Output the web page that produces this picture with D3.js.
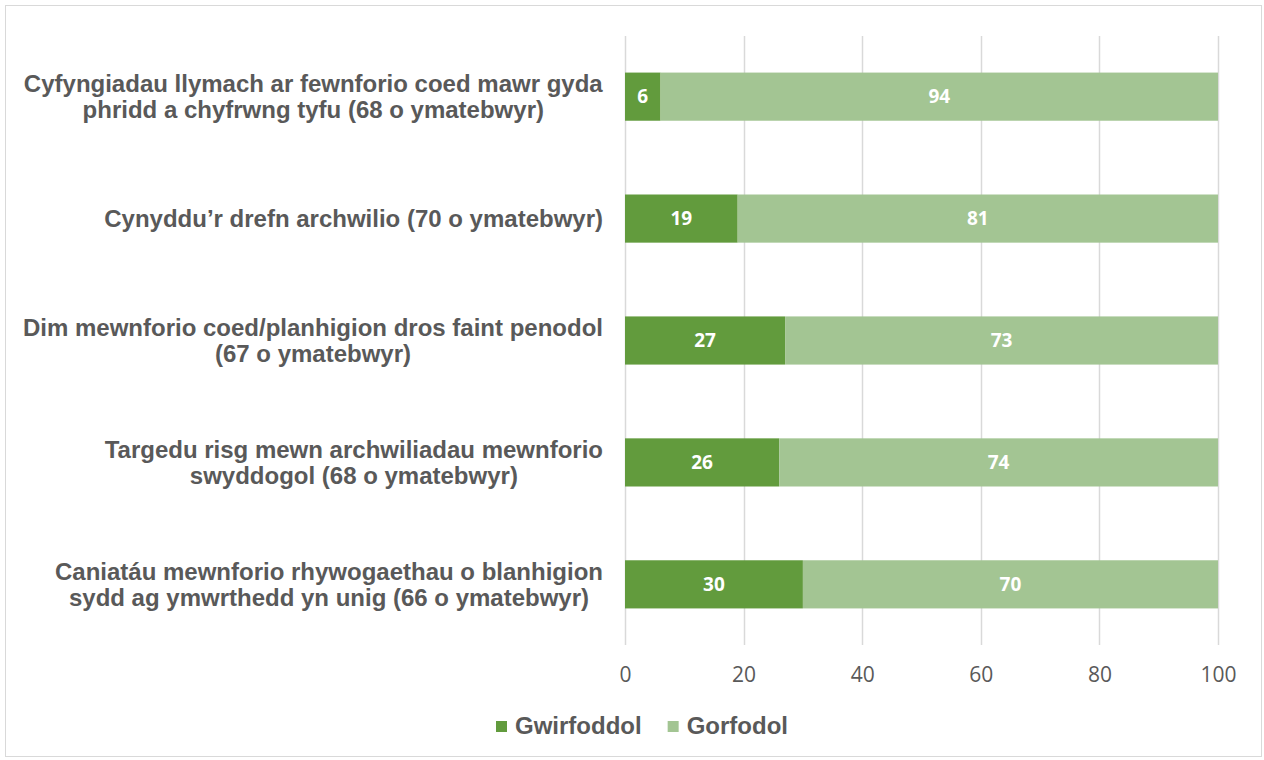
<!DOCTYPE html>
<html><head><meta charset="utf-8">
<script src="https://cdn.jsdelivr.net/npm/d3@7"></script>
<style>body{margin:0;background:#fff}svg{display:block}</style>
</head><body><svg id="c" width="1264" height="760"></svg>
<script>
const categories = [
  ["Cyfyngiadau llymach ar fewnforio coed mawr gyda","phridd a chyfrwng tyfu (68 o ymatebwyr)"],
  ["Cynyddu’r drefn archwilio (70 o ymatebwyr)"],
  ["Dim mewnforio coed/planhigion dros faint penodol","(67 o ymatebwyr)"],
  ["Targedu risg mewn archwiliadau mewnforio","swyddogol (68 o ymatebwyr)"],
  ["Caniatáu mewnforio rhywogaethau o blanhigion","sydd ag ymwrthedd yn unig (66 o ymatebwyr)"]
];
const gwirfoddol = [6, 19, 27, 26, 30];
const gorfodol = [94, 81, 73, 74, 70];
const seriesNames = ["Gwirfoddol", "Gorfodol"];
const ticks = [0, 20, 40, 60, 80, 100];
const colors = ["#629b3d", "#a3c593"];

const svg = d3.select("#c");
svg.append("rect").attr("x",5.5).attr("y",5.5).attr("width",1256).attr("height",751)
  .attr("fill","#fff").attr("stroke","#d9d9d9").attr("stroke-width",1);

const x = d3.scaleLinear().domain([0,100]).range([625,1218]);
const y = d3.scaleBand().domain(d3.range(categories.length)).range([36,645]).paddingInner(0.605).paddingOuter(0.3);

svg.append("g").selectAll("line").data(ticks).join("line")
  .attr("x1",d=>Math.round(x(d))+0.5).attr("x2",d=>Math.round(x(d))+0.5)
  .attr("y1",36).attr("y2",645).attr("stroke","#d9d9d9").attr("stroke-width",1.5);

const data = categories.map((c,i)=>({i, vals:[gwirfoddol[i], gorfodol[i]]}));
const stack = data.map(d=>{let acc=0; return d.vals.map((v,k)=>{const s={i:d.i,k,x0:acc,x1:acc+v,v}; acc+=v; return s;});}).flat();

svg.append("g").selectAll("rect").data(stack).join("rect")
  .attr("x",d=>x(d.x0)).attr("width",d=>x(d.x1)-x(d.x0))
  .attr("y",d=>y(d.i)).attr("height",y.bandwidth())
  .attr("fill",d=>colors[d.k]);

svg.append("g").selectAll("text").data(stack).join("text")
  .attr("x",d=>x((d.x0+d.x1)/2)).attr("y",d=>y(d.i)+y.bandwidth()/2)
  .attr("dy","0.36em").attr("text-anchor","middle")
  .attr("font-family","'Open Sans', sans-serif").attr("font-weight","bold").attr("font-size",19)
  .attr("fill","#fff").text(d=>d.v);

const axis = d3.axisBottom(x).tickValues(ticks).tickSize(0).tickPadding(0);
const ag = svg.append("g").attr("transform","translate(0,667)").call(axis);
ag.select(".domain").remove();
ag.selectAll("text").attr("font-family","'Open Sans', sans-serif").attr("font-size",21).attr("fill","#595959").attr("dy","0.71em");

const lab = svg.append("g");
categories.forEach((lines,i)=>{
  const cy = y(i)+y.bandwidth()/2;
  const n = lines.length, lh = 26;
  const t = lab.append("text").attr("font-family","'Liberation Sans', Arial, sans-serif")
    .attr("font-weight","bold").attr("font-size",24).attr("fill","#595959").attr("text-anchor","middle");
  lines.forEach((l,j)=>{
    t.append("tspan").attr("x",0).attr("y",cy+(j-(n-1)/2)*lh).attr("dy","0.35em").text(l);
  });
  const w = t.node().getBBox().width;
  t.attr("transform",`translate(${603-w/2},0)`);
});

const lg = svg.append("g");
let lx = 496;
seriesNames.forEach((s,k)=>{
  lg.append("rect").attr("x",lx).attr("y",721).attr("width",11).attr("height",11).attr("fill",colors[k]);
  const t = lg.append("text").attr("x",lx+19).attr("y",726).attr("dy","0.35em")
    .attr("font-family","'Liberation Sans', Arial, sans-serif").attr("font-weight","bold")
    .attr("font-size",24).attr("fill","#595959").text(s);
  lx += 19 + t.node().getComputedTextLength() + 26;
});
</script></body></html>
